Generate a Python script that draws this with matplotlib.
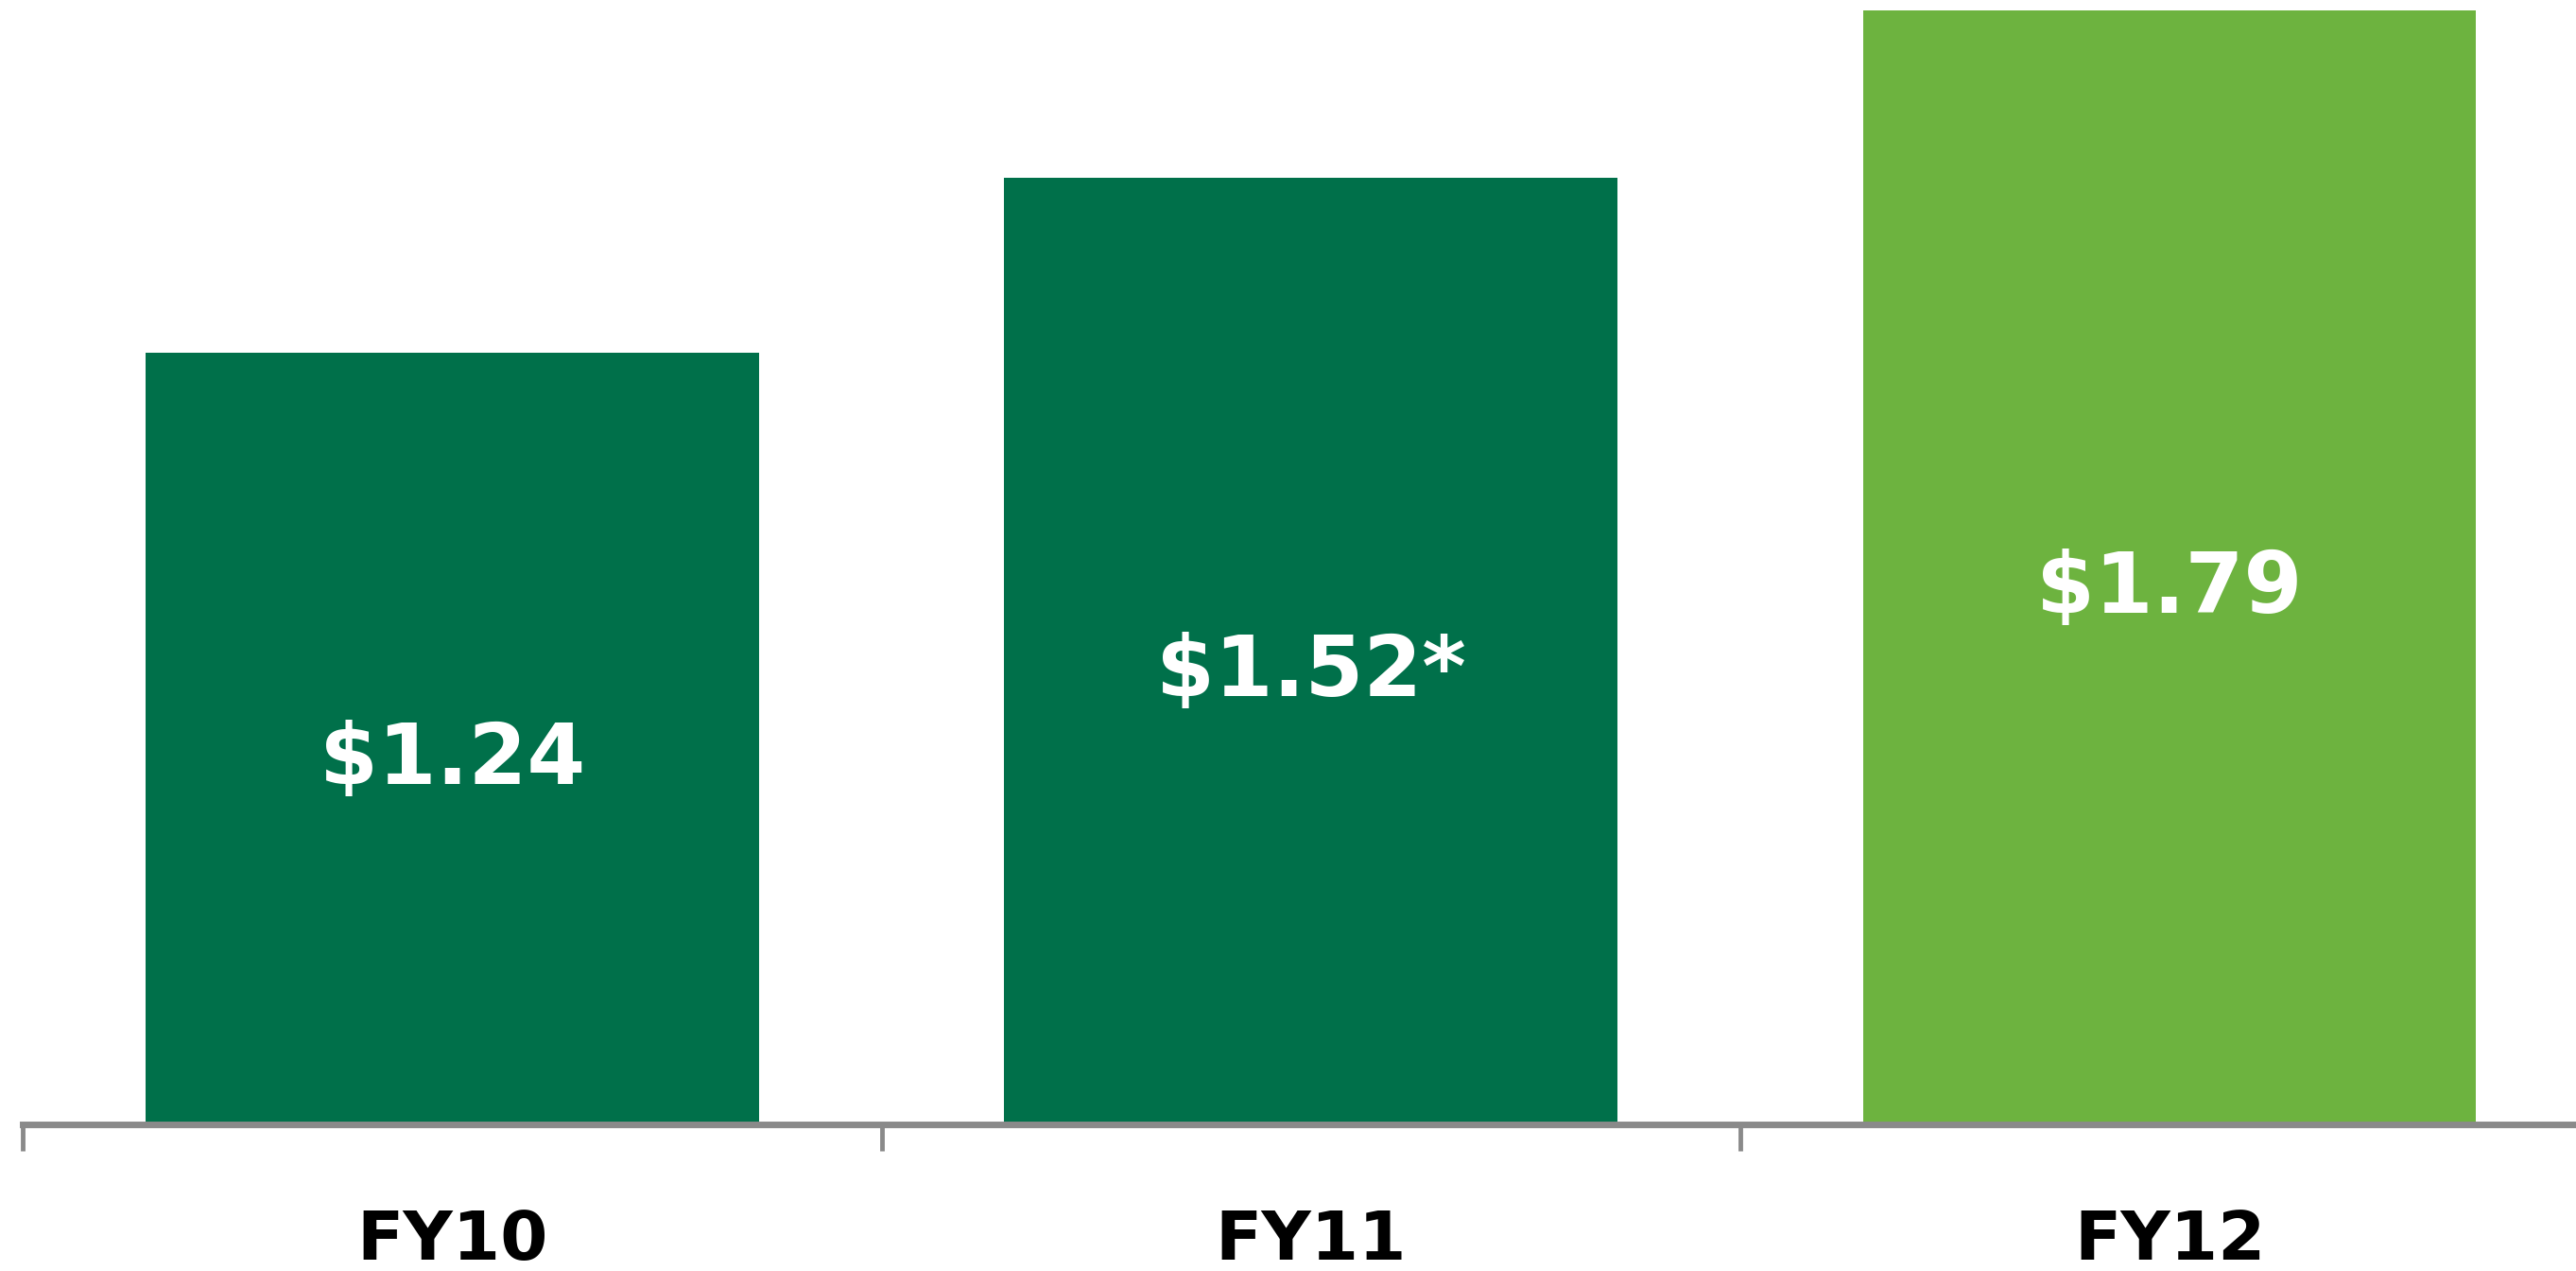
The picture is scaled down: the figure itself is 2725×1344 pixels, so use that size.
import matplotlib
matplotlib.use('Agg')
import matplotlib.pyplot as plt

years = ['FY10', 'FY11', 'FY12']
eps = [1.24, 1.52, 1.79]
labels = ['$1.24', '$1.52*', '$1.79']
colors = ['#00704A', '#00704A', '#6DB33F']

fig = plt.figure(figsize=(27.25, 13.44), dpi=100)
ax = fig.add_axes([0.0089, 0.115, 1.0, 0.885])

x = range(len(years))
bars = ax.bar(x, eps, width=0.714, color=colors, zorder=2)
for b, lab in zip(bars, labels):
    ax.text(b.get_x() + b.get_width() / 2, b.get_height() / 2 - 0.035, lab,
            ha='center', va='center', color='white', fontsize=64,
            fontweight='bold', family='DejaVu Sans')

ax.set_xlim(-0.5, 2.5)
ax.set_ylim(0, 1.806)

for s in ['top', 'right', 'left']:
    ax.spines[s].set_visible(False)
ax.spines['bottom'].set_color('#8a8a8a')
ax.spines['bottom'].set_linewidth(5)
ax.spines['bottom'].set_zorder(3)
ax.set_yticks([])

ax.set_xticks(list(x))
ax.set_xticklabels(years, fontsize=52, fontweight='bold')
ax.tick_params(axis='x', which='major', length=0, pad=64)
ax.set_xticks([-0.5, 0.5, 1.5], minor=True)
ax.tick_params(axis='x', which='minor', length=20, width=3.5, color='#8a8a8a')

fig.savefig('out.png', dpi=100)
